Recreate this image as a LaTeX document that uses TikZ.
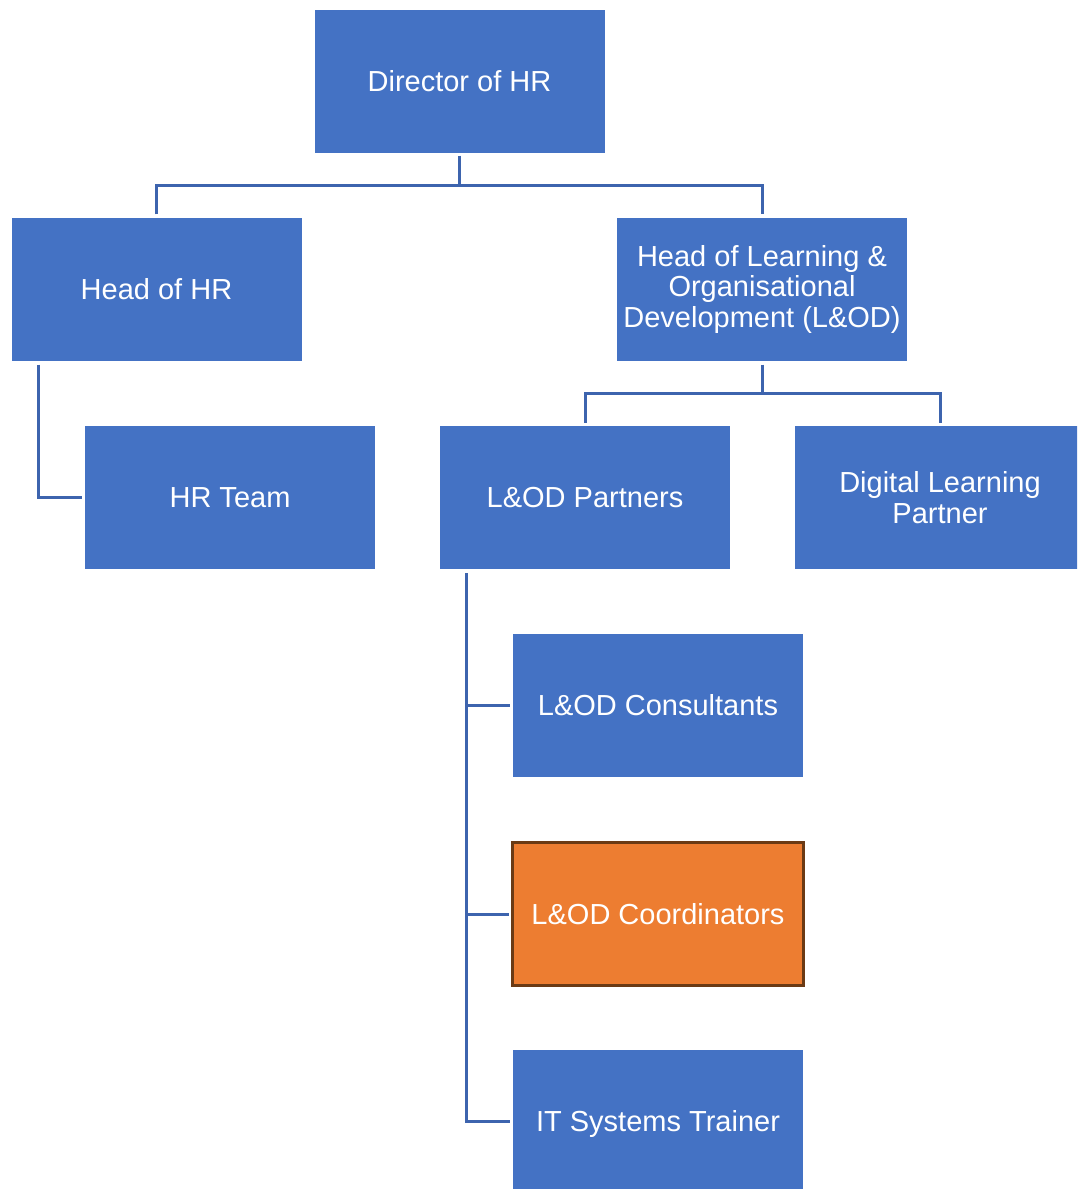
\documentclass[tikz,border=0pt]{standalone}
\usepackage{fontspec}
\setmainfont{Liberation Sans}
\definecolor{boxblue}{HTML}{4472C4}
\definecolor{connblue}{HTML}{3D64AE}
\definecolor{orangefill}{HTML}{ED7D31}
\definecolor{orangeedge}{HTML}{6B3A14}
\tikzset{
  orgbox/.style={rectangle, fill=boxblue, draw=none, minimum width=290pt, minimum height=143pt,
    inner sep=2pt, text=white, align=center, font=\fontsize{29}{30.5}\selectfont},
  hilite/.style={orgbox, fill=orangefill, draw=orangeedge, line width=3pt, minimum width=291pt, minimum height=143pt},
  conn/.style={draw=connblue, line width=3pt}
}
\begin{document}
\begin{tikzpicture}[x=1pt,y=-1pt]
\useasboundingbox (0,0) rectangle (1077,1189);
\clip (0,0) rectangle (1077,1189);
\node[orgbox] (dir) at (459.5,81) {Director of HR};
\node[orgbox] (hhr) at (156.5,289) {Head of HR};
\node[orgbox] (hlod) at (762,289) {Head of Learning \&\\Organisational\\Development (L\&OD)};
\node[orgbox] (hrt) at (230,497.5) {HR Team};
\node[orgbox] (lodp) at (585,497.5) {L\&OD Partners};
\node[orgbox] (dlp) at (940,497.5) {Digital Learning\\Partner};
\node[orgbox] (cons) at (658,705.5) {L\&OD Consultants};
\node[hilite] (coord) at (658,914) {L\&OD Coordinators};
\node[orgbox, minimum height=148pt] (its) at (658,1123.5) {IT Systems Trainer};
\coordinate (b1) at (459.5,185);
\coordinate (b2) at (762,393);
\coordinate (spine) at (467,600);
% Director level
\draw[conn] ([yshift=-3pt]dir.south) -- (b1);
\draw[conn] ([yshift=3pt]hhr.north) |- (b1) -| ([yshift=3pt]hlod.north);
% Head of HR to HR Team
\draw[conn] ([xshift=27pt,yshift=-4pt]hhr.south west) |- ([xshift=-3pt]hrt.west);
% Head of L&OD level
\draw[conn] ([yshift=-4pt]hlod.south) -- (b2);
\draw[conn] ([yshift=3pt]lodp.north) |- (b2) -| ([yshift=3pt]dlp.north);
% L&OD Partners reports
\draw[conn] ([xshift=27pt,yshift=-4pt]lodp.south west) |- ([xshift=-3pt,yshift=2.5pt]its.west);
\draw[conn] (cons.west -| spine) -- ([xshift=-3pt]cons.west);
\draw[conn] (coord.west -| spine) -- ([xshift=-2pt]coord.west);
\end{tikzpicture}
\end{document}
